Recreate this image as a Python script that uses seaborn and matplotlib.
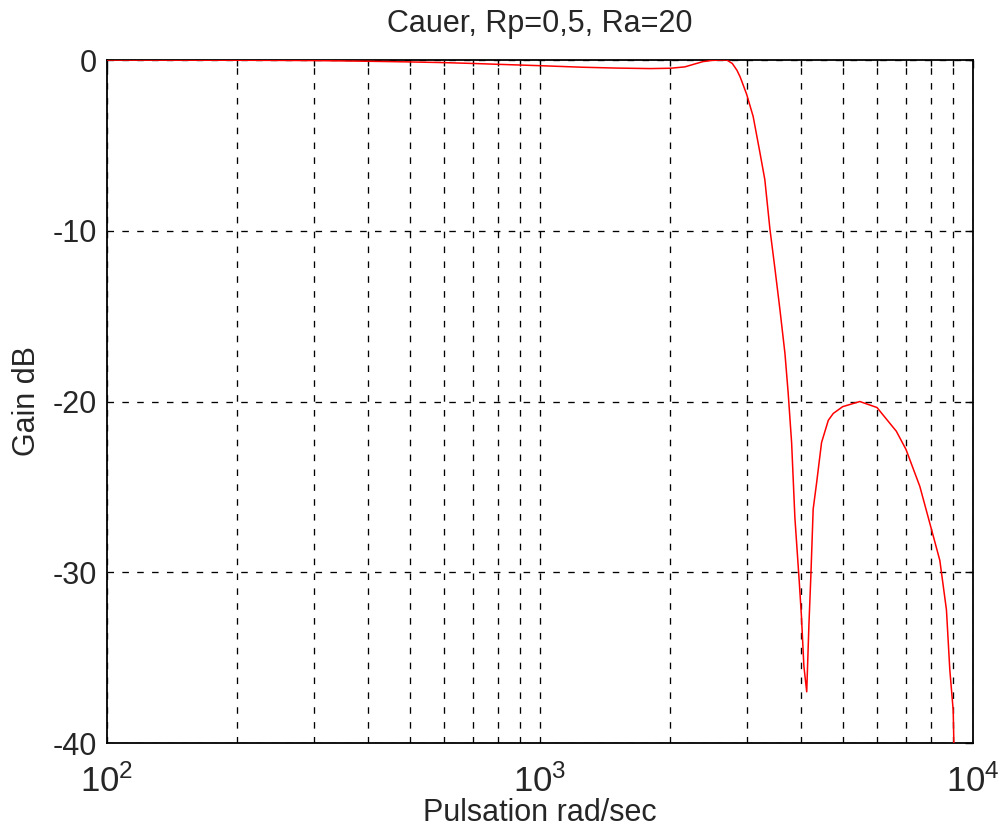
import numpy as np
import pandas as pd
import matplotlib
matplotlib.use("Agg")
import matplotlib.pyplot as plt
import matplotlib.ticker as mticker
import seaborn as sns

# Valeurs (pulsation en rad/s, gain en dB)
pulsation = [100, 200, 300, 400, 500, 600, 700, 800, 1000, 1250, 1500, 1800,
             2000, 2160, 2270, 2380, 2500, 2620, 2700, 2780, 2850, 2900, 3000,
             3106, 3219, 3305, 3396, 3487, 3581, 3679, 3742, 3811, 3878, 3968,
             4016, 4068, 4130, 4178, 4222, 4274, 4351, 4469, 4632, 4755, 5000,
             5477, 6000, 6651, 7000, 7536, 8000, 8381, 8682, 8838, 9000, 9031,
             9080]
gain_db = [0, -0.01, -0.03, -0.07, -0.11, -0.15, -0.2, -0.25, -0.33, -0.42,
           -0.47, -0.5, -0.48, -0.4, -0.24, -0.09, -0.02, 0, 0, -0.2, -0.6,
           -1.0, -2.0, -3.3, -5.4, -7.0, -9.9, -12.2, -14.6, -17.2, -19.5,
           -22.4, -26.8, -30.5, -32.6, -35.5, -37.0, -33.1, -30.2, -26.3,
           -24.8, -22.4, -21.1, -20.7, -20.3, -20.0, -20.35, -21.74, -22.8,
           -24.97, -27.4, -29.3, -32.2, -35.7, -38.1, -40.0, -42.0]

y_ticks = [-40, -30, -20, -10, 0]
y_labels = ["-40", "-30", "-20", "-10", "0"]

sns.set_style("white")
plt.rcParams["font.family"] = ["Liberation Sans", "DejaVu Sans"]
plt.rcParams["mathtext.fontset"] = "custom"
plt.rcParams["mathtext.rm"] = "Liberation Sans"
plt.rcParams["mathtext.it"] = "Liberation Sans"
plt.rcParams["axes.unicode_minus"] = False
plt.rcParams["lines.scale_dashes"] = False

df = pd.DataFrame({"pulsation": pulsation, "gain": gain_db})

fig = plt.figure(figsize=(9.99, 8.34), dpi=100)
ax = fig.add_axes([0.1071, 0.1091, 0.8669, 0.8189])

ax.set_xscale("log")
sns.lineplot(data=df, x="pulsation", y="gain", color="#ff0000",
             linewidth=1.1, ax=ax, zorder=3)

ax.set_xlim(100, 10000)
ax.set_ylim(-40, 0)
ax.set_yticks(y_ticks)
ax.set_yticklabels(y_labels)
ax.xaxis.set_major_locator(mticker.LogLocator(base=10, numticks=5))
ax.xaxis.set_minor_locator(mticker.LogLocator(base=10, subs=np.arange(2, 10), numticks=20))
ax.xaxis.set_minor_formatter(mticker.NullFormatter())

ax.grid(True, which="both", axis="x", color="black", linewidth=0.95,
        linestyle=(0, (4.7, 6.0)))
ax.grid(True, which="major", axis="y", color="black", linewidth=0.95,
        linestyle=(0, (4.7, 6.0)))

for sp in ax.spines.values():
    sp.set_color("black")
    sp.set_linewidth(1.3)

ax.tick_params(axis="both", which="major", direction="in", length=6,
               width=1, colors="black", labelsize=22, top=True, right=True)
ax.tick_params(axis="x", which="minor", direction="in", length=4,
               width=1, colors="black", top=True)
ax.tick_params(axis="x", which="major", pad=15, labelsize=25)
ax.tick_params(axis="y", which="major", pad=7)

ax.set_title("Cauer, Rp=0,5, Ra=20", fontsize=22, pad=20, color="#262626")
ax.set_xlabel("Pulsation rad/sec", fontsize=22, labelpad=0, color="#262626")
ax.set_ylabel("Gain dB", fontsize=22, labelpad=8, color="#262626")
for lab in ax.get_xticklabels() + ax.get_yticklabels():
    lab.set_color("#262626")

fig.savefig("out.png", dpi=100)
